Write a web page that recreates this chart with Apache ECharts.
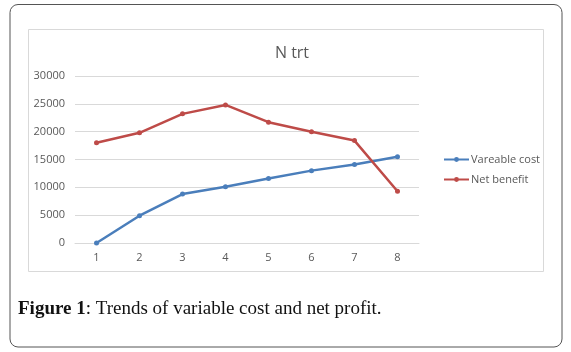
<!DOCTYPE html>
<html>
<head>
<meta charset="utf-8">
<script src="https://cdn.jsdelivr.net/npm/echarts@6/dist/echarts.min.js"></script>
<style>
html,body{margin:0;padding:0;background:#fff;}
#c{width:571px;height:352px;}
</style>
</head>
<body>
<div id="c"></div>
<script>
var categories = ['1','2','3','4','5','6','7','8'];
var vareableCost = [0, 4900, 8800, 10100, 11600, 13000, 14100, 15500];
var netBenefit = [18000, 19800, 23200, 24800, 21700, 20000, 18400, 9300];
var seriesNames = ['Vareable cost', 'Net benefit'];
var chartTitle = 'N trt';
var captionBold = 'Figure 1';
var captionText = ': Trends of variable cost and net profit.';

var chart = echarts.init(document.getElementById('c'), null, {renderer:'canvas'});
var font = '"Open Sans", "Liberation Sans", sans-serif';
var serif = '"Liberation Serif", "DejaVu Serif", serif';
chart.setOption({
  animation:false,
  backgroundColor:'#fff',
  title:{
    text: chartTitle, left: 287, top: 40, textAlign:'center',
    textStyle:{color:'#595959', fontSize:16, fontWeight:'normal', fontFamily:font}
  },
  graphic:[
    {type:'rect', shape:{x:10, y:4.5, width:552, height:342.5, r:8}, style:{fill:'none', stroke:'#555', lineWidth:1}, z:-1},
    {type:'rect', shape:{x:28.5, y:29.5, width:515, height:242}, style:{fill:'none', stroke:'#d9d9d9', lineWidth:1}, z:-1},
    {type:'text', left:18, top:300, style:{
      text:'{b|' + captionBold + '}' + captionText,
      rich:{b:{fontWeight:'bold', fontSize:19, fontFamily:serif, fill:'#111'}},
      fontSize:19, fontFamily:serif, fill:'#111'
    }}
  ],
  legend:{
    orient:'vertical', left:438, top:149, itemWidth:25, itemHeight:6, itemGap:9,
    textStyle:{color:'#595959', fontSize:11, fontFamily:font, padding:[0,0,0,-3]},
    data: seriesNames
  },
  grid:{left:75, right:152, top:76, bottom:109, containLabel:false},
  xAxis:{
    type:'category', data:categories, boundaryGap:true,
    axisLine:{lineStyle:{color:'#d9d9d9'}}, axisTick:{show:false},
    axisLabel:{color:'#595959', fontSize:11, fontFamily:font, margin:9}
  },
  yAxis:{
    type:'value', min:0, max:30000, interval:5000,
    axisLine:{show:false}, axisTick:{show:false},
    splitLine:{lineStyle:{color:'#d9d9d9'}},
    axisLabel:{color:'#595959', fontSize:11, fontFamily:font, margin:10,
      formatter:function(v){return String(v);}}
  },
  series:[
    {name:seriesNames[0], type:'line', data:vareableCost, color:'#4a7ebb',
     symbol:'circle', symbolSize:5, lineStyle:{width:2.5}},
    {name:seriesNames[1], type:'line', data:netBenefit, color:'#be4b48',
     symbol:'circle', symbolSize:5, lineStyle:{width:2.5}}
  ]
});
</script>
</body>
</html>
